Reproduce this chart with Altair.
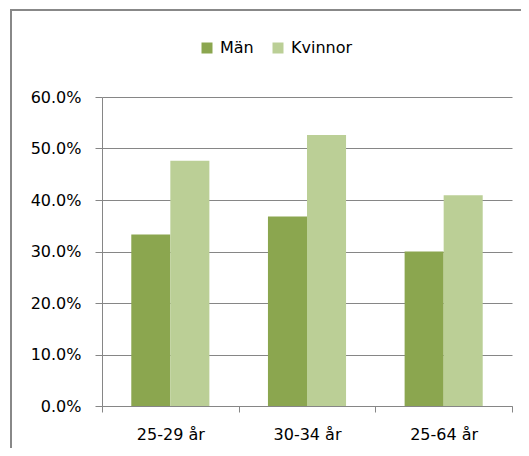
import altair as alt
import pandas as pd

categories = ["25-29 år", "30-34 år", "25-64 år"]
series = ["Män", "Kvinnor"]
man_values = [0.333, 0.368, 0.300]
kvinnor_values = [0.476, 0.526, 0.409]
colors = ["#8BA64F", "#BBCF96"]
y_ticks = [0, 0.1, 0.2, 0.3, 0.4, 0.5, 0.6]

rows = []
for c, m, k in zip(categories, man_values, kvinnor_values):
    rows.append({"Åldersgrupp": c, "Kön": "Män", "Andel": m})
    rows.append({"Åldersgrupp": c, "Kön": "Kvinnor", "Andel": k})
df = pd.DataFrame(rows)

FONT = "DejaVu Sans"
GRAY = "#868686"

bars = alt.Chart(df).mark_bar().encode(
    x=alt.X(
        "Åldersgrupp:N", sort=categories, title=None,
        scale=alt.Scale(paddingInner=0, paddingOuter=0),
        axis=alt.Axis(labelAngle=0, tickBand="extent", tickSize=6, labelPadding=14,
                      domainColor=GRAY, tickColor=GRAY, domainWidth=1, tickWidth=1,
                      labelFont=FONT, labelFontSize=16, labelColor="#000000", grid=False),
    ),
    xOffset=alt.XOffset("Kön:N", sort=series,
                        scale=alt.Scale(paddingInner=0, paddingOuter=0.75)),
    y=alt.Y(
        "Andel:Q", title=None, scale=alt.Scale(domain=[0, 0.6], nice=False),
        axis=alt.Axis(values=y_ticks, format=".1%", tickSize=7, labelPadding=14,
                      domainColor=GRAY, tickColor=GRAY, gridColor=GRAY, grid=True,
                      gridWidth=1, domainWidth=1, tickWidth=1,
                      labelFont=FONT, labelFontSize=16, labelColor="#000000"),
    ),
    color=alt.Color(
        "Kön:N", sort=series, scale=alt.Scale(domain=series, range=colors),
        legend=alt.Legend(title=None, orient="none", direction="horizontal",
                          legendX=97, legendY=-57, symbolType="square", symbolSize=121,
                          symbolStrokeWidth=0, symbolOpacity=1, labelFont=FONT,
                          labelFontSize=16, labelColor="#000000", labelOffset=5,
                          columnPadding=16, padding=0, labelLimit=300),
    ),
)

frame = alt.Chart(pd.DataFrame({"f": [1]})).mark_rect(
    fillOpacity=0, stroke="#888888", strokeWidth=2
).encode(x=alt.value(-91), x2=alt.value(700), y=alt.value(-87), y2=alt.value(600))

chart = alt.layer(frame, bars).properties(
    width=410, height=309,
    autosize=alt.AutoSizeParams(type="none"),
    padding={"left": 94, "top": 89, "right": 9, "bottom": 42},
).configure_view(stroke=None)

chart.save("out.html", embed_options={"renderer": "svg", "actions": False})
